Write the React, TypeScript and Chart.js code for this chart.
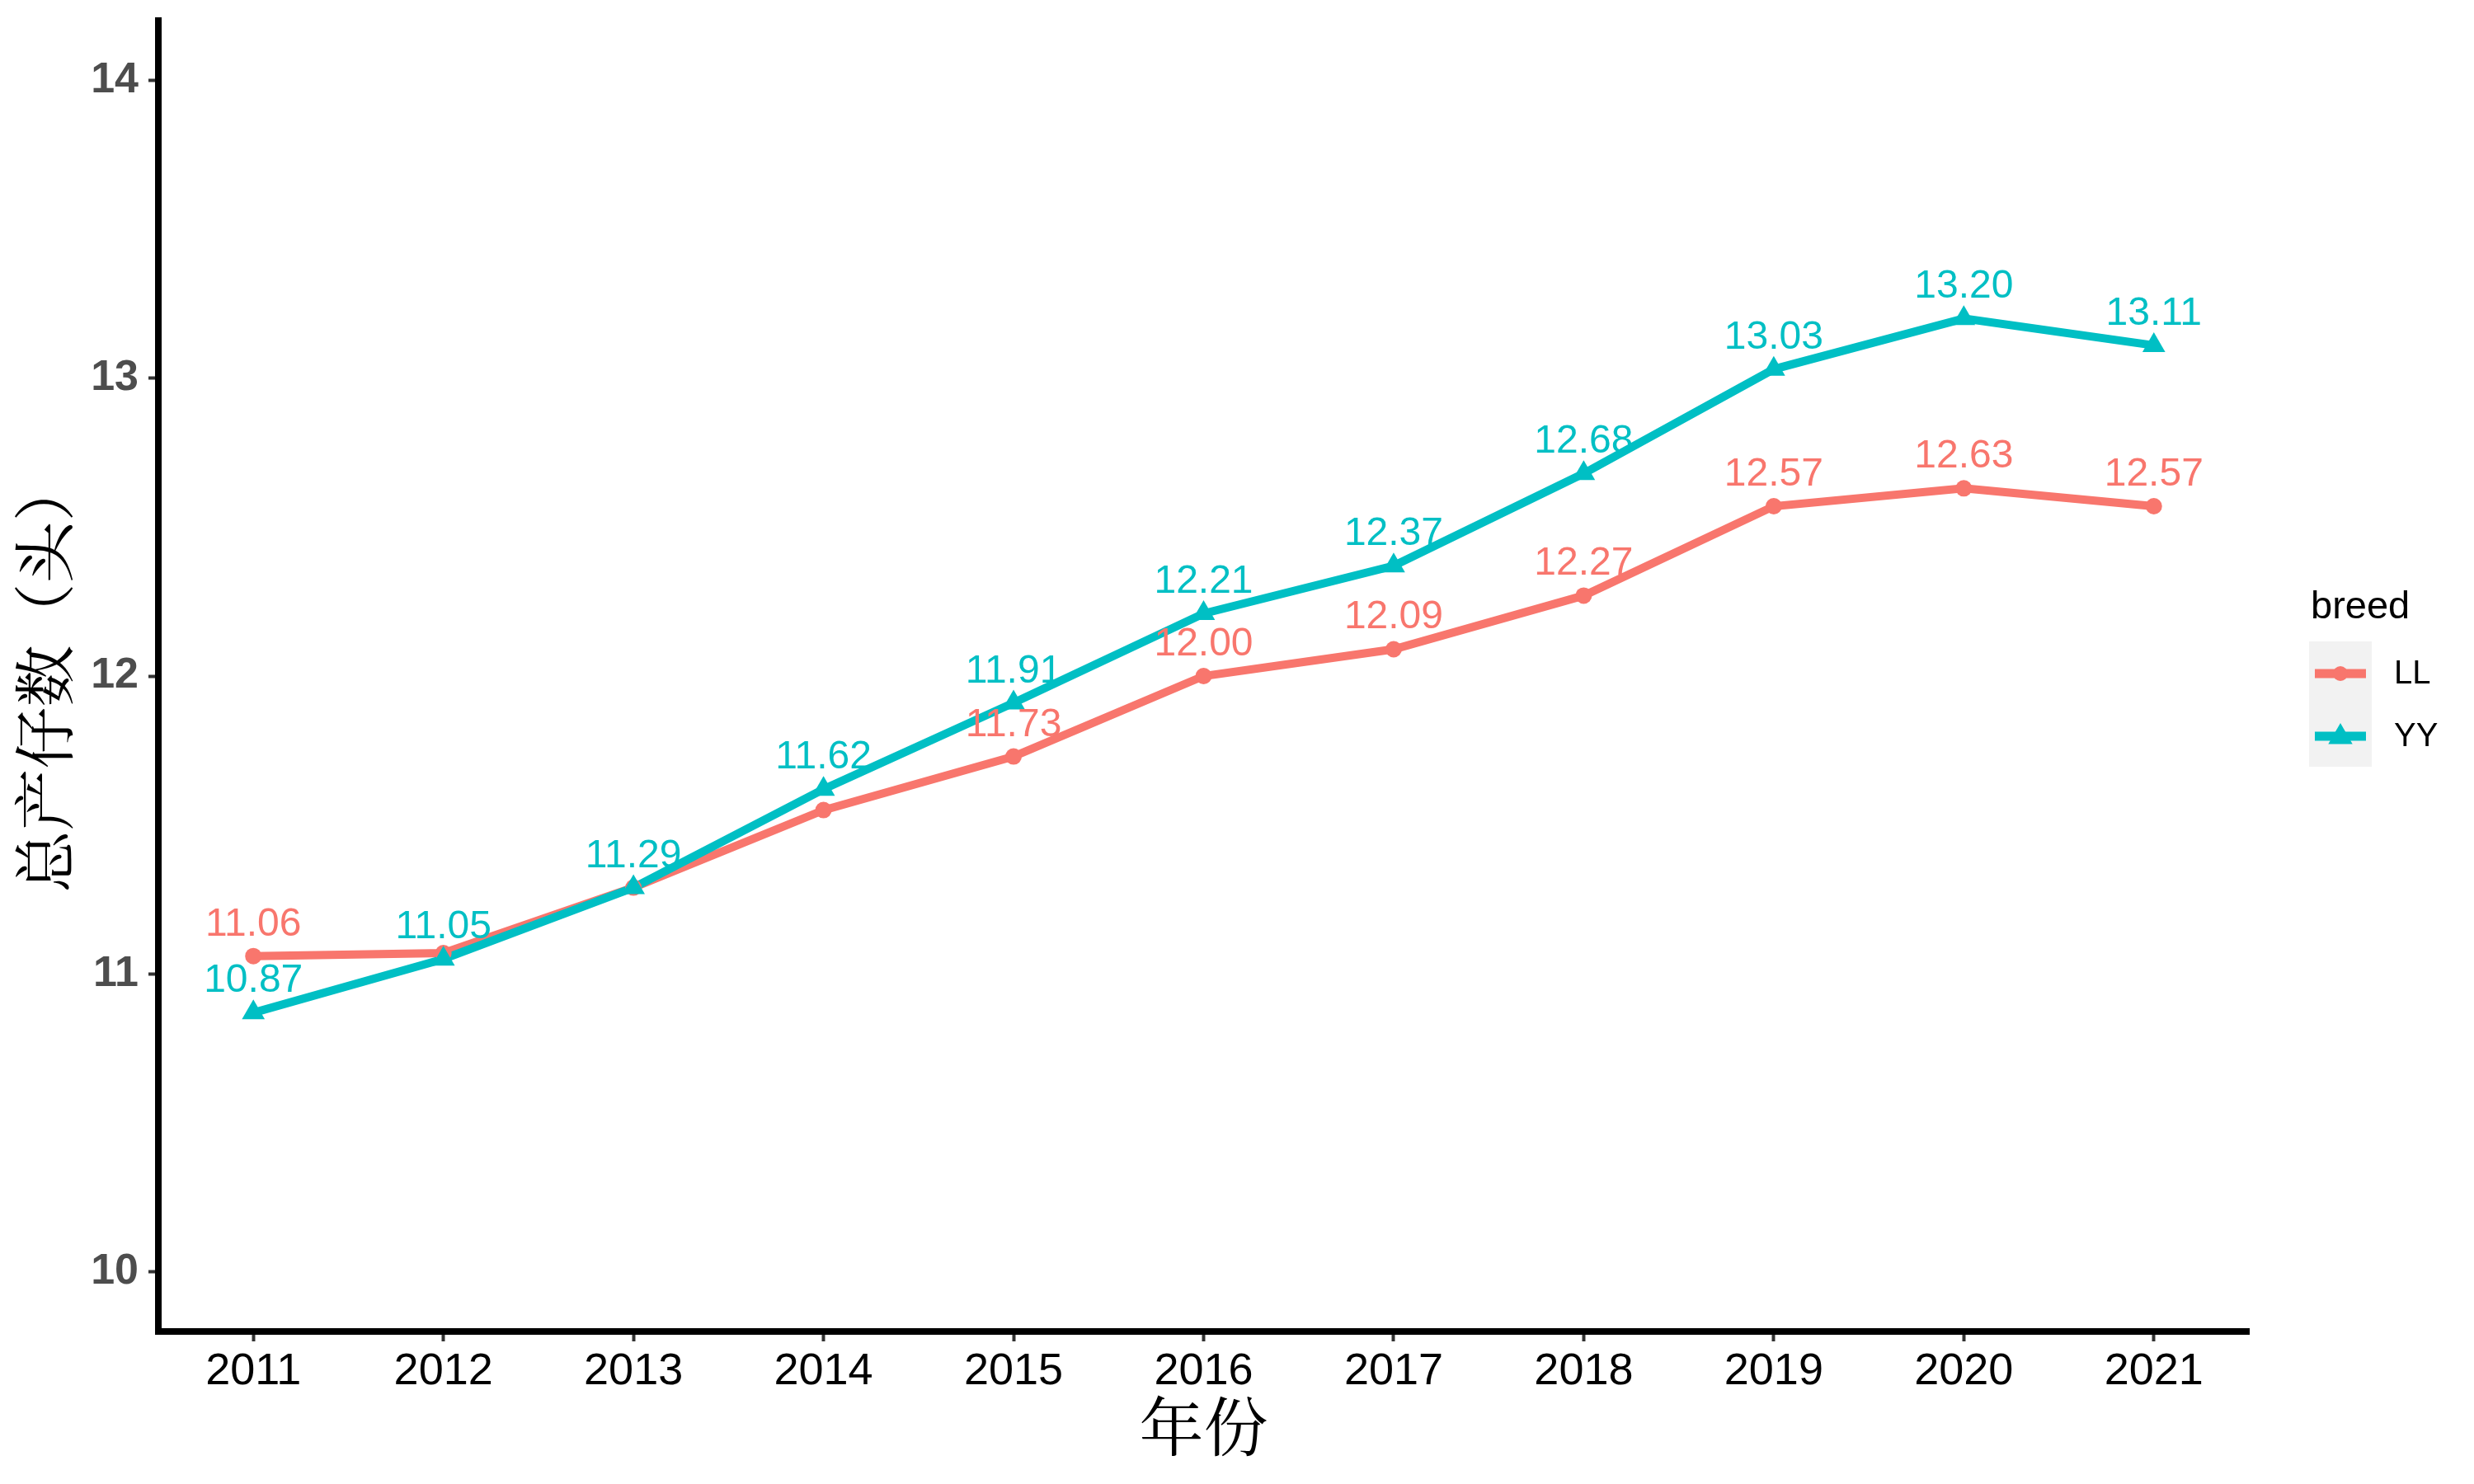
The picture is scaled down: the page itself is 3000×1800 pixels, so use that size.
import React, { useEffect, useRef } from "react";
import { Chart, registerables } from "chart.js";

Chart.register(...registerables);

const years = ["2011", "2012", "2013", "2014", "2015", "2016", "2017", "2018", "2019", "2020", "2021"];
const llValues = [11.06, 11.07, 11.29, 11.55, 11.73, 12.0, 12.09, 12.27, 12.57, 12.63, 12.57];
const yyValues = [10.87, 11.05, 11.29, 11.62, 11.91, 12.21, 12.37, 12.68, 13.03, 13.2, 13.11];
const llLabelShown = [true, false, false, false, true, true, true, true, true, true, true];
const yyLabelShown = [true, true, true, true, true, true, true, true, true, true, true];
const yTicks = [10, 11, 12, 13, 14];
const seriesNames = ["LL", "YY"];
const legendTitle = "breed";
const xTitle = "年份";
const yTitle = "总产仔数（头）";

const RED = "#F8766D";
const TEAL = "#00BFC4";
const SANS = "'Liberation Sans', Arial, sans-serif";
const CJK = "'Noto Serif CJK SC', 'Noto Sans CJK SC', serif";

function drawTriangle(ctx: CanvasRenderingContext2D, x: number, y: number, r: number) {
  ctx.beginPath();
  for (let i = 0; i < 3; i++) {
    const a = (i * 2 * Math.PI) / 3;
    const px = x + Math.sin(a) * r;
    const py = y - Math.cos(a) * r;
    if (i === 0) ctx.moveTo(px, py);
    else ctx.lineTo(px, py);
  }
  ctx.closePath();
  ctx.fill();
}

const labelPlugin = {
  id: "valueLabels",
  afterDatasetsDraw(chart: any) {
    const ctx = chart.ctx as CanvasRenderingContext2D;
    const specs = [
      { idx: 2, values: llValues, shown: llLabelShown, color: RED },
      { idx: 3, values: yyValues, shown: yyLabelShown, color: TEAL },
    ];
    ctx.save();
    ctx.font = `48px ${SANS}`;
    ctx.textAlign = "center";
    ctx.textBaseline = "alphabetic";
    for (const s of specs) {
      const meta = chart.getDatasetMeta(s.idx);
      ctx.fillStyle = s.color;
      meta.data.forEach((pt: any, i: number) => {
        if (!s.shown[i]) return;
        ctx.fillText(s.values[i].toFixed(2), pt.x, pt.y - 25);
      });
    }
    ctx.restore();
  },
};

const legendPlugin = {
  id: "customLegend",
  afterDraw(chart: any) {
    const ctx = chart.ctx as CanvasRenderingContext2D;
    ctx.save();
    ctx.fillStyle = "#000";
    ctx.font = `47px ${SANS}`;
    ctx.textAlign = "left";
    ctx.textBaseline = "alphabetic";
    ctx.fillText(legendTitle, 2802, 750);
    const colors = [RED, TEAL];
    const keyX = 2800;
    const keyW = 76;
    const keyH = 76;
    const top = 778;
    seriesNames.forEach((name, i) => {
      const y0 = top + i * keyH;
      const cy = y0 + keyH / 2 + 1;
      ctx.fillStyle = "#F2F2F2";
      ctx.fillRect(keyX, y0, keyW, keyH);
      ctx.strokeStyle = colors[i];
      ctx.lineWidth = 11;
      ctx.beginPath();
      ctx.moveTo(keyX + 7, cy);
      ctx.lineTo(keyX + keyW - 7, cy);
      ctx.stroke();
      ctx.fillStyle = colors[i];
      if (i === 0) {
        ctx.beginPath();
        ctx.arc(keyX + keyW / 2, cy, 9, 0, Math.PI * 2);
        ctx.fill();
      } else {
        drawTriangle(ctx, keyX + keyW / 2, cy + 1, 17);
      }
      ctx.fillStyle = "#000";
      ctx.font = `40px ${SANS}`;
      ctx.textBaseline = "middle";
      ctx.fillText(name, 2903, cy + 1);
      ctx.textBaseline = "alphabetic";
    });
    ctx.restore();
  },
};

export default function App() {
  const ref = useRef<HTMLCanvasElement | null>(null);

  useEffect(() => {
    if (!ref.current) return;
    const chart = new Chart(ref.current, {
      type: "line",
      data: {
        labels: years,
        datasets: [
          {
            label: seriesNames[0] + " line",
            data: llValues,
            borderColor: RED,
            backgroundColor: RED,
            borderWidth: 10,
            pointRadius: 0,
            tension: 0,
            order: 4,
          },
          {
            label: seriesNames[1] + " line",
            data: yyValues,
            borderColor: TEAL,
            backgroundColor: TEAL,
            borderWidth: 10,
            pointRadius: 0,
            tension: 0,
            order: 3,
          },
          {
            label: seriesNames[0],
            data: llValues,
            showLine: false,
            pointStyle: "circle",
            pointRadius: 10,
            pointBorderWidth: 0,
            pointBackgroundColor: RED,
            pointBorderColor: RED,
            order: 2,
          },
          {
            label: seriesNames[1],
            data: yyValues,
            showLine: false,
            pointStyle: "triangle",
            pointRadius: 16,
            pointBorderWidth: 0,
            pointBackgroundColor: TEAL,
            pointBorderColor: TEAL,
            order: 1,
          },
        ],
      },
      options: {
        animation: false,
        responsive: false,
        devicePixelRatio: 1,
        layout: { padding: { left: 0, top: 24, right: 273, bottom: 0 } },
        plugins: {
          legend: { display: false },
          tooltip: { enabled: false },
        },
        scales: {
          x: {
            type: "category",
            offset: true,
            grid: {
              display: true,
              drawOnChartArea: false,
              drawTicks: true,
              tickLength: 12,
              tickWidth: 4,
              tickColor: "#333333",
              offset: false,
            },
            border: { display: true, color: "#000000", width: 8 },
            ticks: {
              color: "#000000",
              font: { family: SANS, size: 54, lineHeight: 1 },
              padding: 10,
              maxRotation: 0,
              autoSkip: false,
            },
            title: {
              display: true,
              text: xTitle,
              color: "#000000",
              font: { family: CJK, size: 78, lineHeight: 1 },
              padding: { top: 0, bottom: 31 },
            },
            afterFit: (s: any) => {
              s.height = 185;
            },
          },
          y: {
            type: "linear",
            min: 9.8,
            max: 14.2,
            afterBuildTicks: (s: any) => {
              s.ticks = yTicks.map((v) => ({ value: v }));
            },
            grid: {
              display: true,
              drawOnChartArea: false,
              drawTicks: true,
              tickLength: 12,
              tickWidth: 4,
              tickColor: "#333333",
            },
            border: { display: true, color: "#000000", width: 8 },
            ticks: {
              color: "#4D4D4D",
              font: { family: SANS, size: 52, weight: "bold", lineHeight: 0.5 },
              padding: 12,
            },
            title: {
              display: true,
              text: yTitle,
              color: "#000000",
              font: { family: CJK, size: 75, lineHeight: 1 },
              padding: { top: 16, bottom: 0 },
            },
            afterFit: (s: any) => {
              s.width = 192;
            },
          },
        },
      } as any,
      plugins: [labelPlugin, legendPlugin],
    });
    return () => chart.destroy();
  }, []);

  return (
    <div style={{ position: "fixed", left: 0, top: 0, width: 3000, height: 1800, background: "#fff" }}>
      <canvas ref={ref} width={3000} height={1800} style={{ width: 3000, height: 1800, display: "block" }} />
    </div>
  );
}
